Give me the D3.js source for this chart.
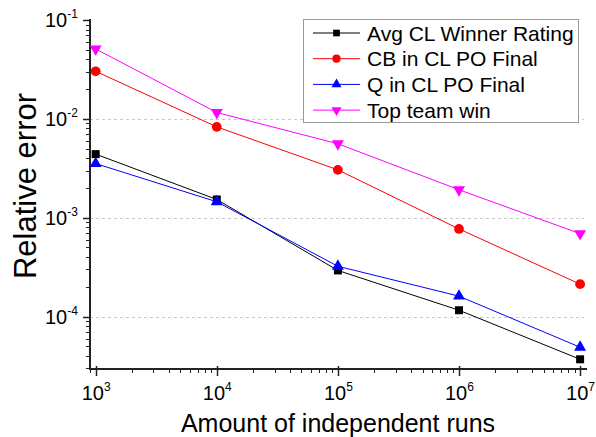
<!DOCTYPE html>
<html>
<head>
<meta charset="utf-8">
<script src="https://cdn.jsdelivr.net/npm/d3@7"></script>
<style>
body { margin: 0; background: #fff; }
text { font-family: "Liberation Sans", Arial, sans-serif; }
</style>
</head>
<body>
<div id="chart"></div>
<script>
var runs = [1e3, 1e4, 1e5, 1e6, 1e7];
var avgWinner = [4.4e-3, 1.53e-3, 2.93e-4, 1.16e-4, 3.7e-5];
var cbFinal = [3.03e-2, 8.3e-3, 3.05e-3, 7.7e-4, 2.13e-4];
var qFinal = [3.53e-3, 1.45e-3, 3.23e-4, 1.61e-4, 4.9e-5];
var topWin = [5.1e-2, 1.16e-2, 5.6e-3, 1.92e-3, 6.9e-4];
var xTicks = [3, 4, 5, 6, 7];
var yTicks = [-4, -3, -2, -1];

var series = [
	{ name: "Avg CL Winner Rating", values: avgWinner, color: "#000000", symbol: d3.symbolSquare, size: 64, rot: 0 },
	{ name: "CB in CL PO Final", values: cbFinal, color: "#ff0000", symbol: d3.symbolCircle, size: 75, rot: 0 },
	{ name: "Q in CL PO Final", values: qFinal, color: "#0000ff", symbol: d3.symbolTriangle, size: 62, rot: 0 },
	{ name: "Top team win", values: topWin, color: "#ff00ff", symbol: d3.symbolTriangle, size: 62, rot: 180 }
];

var W = 596, H = 437;
var L = 90, R = 587, T = 20, B = 369;

var svg = d3.select("#chart").append("svg")
	.attr("width", W)
	.attr("height", H);

var x = d3.scaleLog().domain([898, 1.14e7]).range([L, R]);
var y = d3.scaleLog().domain([Math.pow(10, -4.53), 0.1]).range([B, T]);

// grid lines
svg.append("g").selectAll("line")
	.data(yTicks.filter(function(d) { return d < -1; }))
	.enter().append("line")
	.attr("x1", L).attr("x2", 584)
	.attr("y1", function(d) { return Math.round(y(Math.pow(10, d))) + 0.5; })
	.attr("y2", function(d) { return Math.round(y(Math.pow(10, d))) + 0.5; })
	.attr("stroke", "#c8c8c8")
	.attr("stroke-width", 1)
	.attr("stroke-dasharray", "3,3");

// minor ticks
var minorY = [], minorX = [];
for (var e = -5; e < -1; e++) for (var m = 2; m < 10; m++) {
	var v = m * Math.pow(10, e);
	if (v > y.domain()[0] && v < 0.1) minorY.push(v);
}
for (var e2 = 2; e2 < 7; e2++) for (var m2 = 2; m2 < 10; m2++) {
	var v2 = m2 * Math.pow(10, e2);
	if (v2 > x.domain()[0] && v2 < x.domain()[1]) minorX.push(v2);
}

var axisG = svg.append("g").attr("stroke", "#222");

axisG.selectAll(".ym").data(minorY).enter().append("line")
	.attr("x1", L - 4).attr("x2", L)
	.attr("y1", function(d) { return Math.round(y(d)) + 0.5; })
	.attr("y2", function(d) { return Math.round(y(d)) + 0.5; })
	.attr("stroke-width", 1);
axisG.selectAll(".yM").data(yTicks).enter().append("line")
	.attr("x1", L - 7).attr("x2", L)
	.attr("y1", function(d) { return Math.round(y(Math.pow(10, d))) + 0.5; })
	.attr("y2", function(d) { return Math.round(y(Math.pow(10, d))) + 0.5; })
	.attr("stroke-width", 1.5);

axisG.selectAll(".xm").data(minorX).enter().append("line")
	.attr("y1", B).attr("y2", B + 4)
	.attr("x1", function(d) { return Math.round(x(d)) + 0.5; })
	.attr("x2", function(d) { return Math.round(x(d)) + 0.5; })
	.attr("stroke-width", 1);
axisG.selectAll(".xM").data(xTicks).enter().append("line")
	.attr("y1", B - 3).attr("y2", B + 7)
	.attr("x1", function(d) { return Math.round(x(Math.pow(10, d))) + 0.5; })
	.attr("x2", function(d) { return Math.round(x(Math.pow(10, d))) + 0.5; })
	.attr("stroke-width", 1.5);

axisG.append("line").attr("x1", L).attr("x2", L).attr("y1", T - 1).attr("y2", B + 1).attr("stroke-width", 2);
axisG.append("line").attr("x1", L - 1).attr("x2", R).attr("y1", B).attr("y2", B).attr("stroke-width", 2);

// tick labels
svg.append("g").selectAll("text").data(yTicks).enter().append("text")
	.attr("x", 45)
	.attr("y", function(d) { return y(Math.pow(10, d)) + 7; })
	.attr("font-size", "20px")
	.attr("fill", "#000")
	.each(function(d) {
		var t = d3.select(this);
		t.append("tspan").text("10");
		t.append("tspan").attr("dy", -9).attr("font-size", "12px").text(d);
	});

svg.append("g").selectAll("text").data(xTicks).enter().append("text")
	.attr("x", function(d) { return x(Math.pow(10, d)) - 14; })
	.attr("y", 400)
	.attr("font-size", "20px")
	.attr("fill", "#000")
	.each(function(d) {
		var t = d3.select(this);
		t.append("tspan").text("10");
		t.append("tspan").attr("dy", -9).attr("font-size", "12px").text(d);
	});

// axis titles
svg.append("text")
	.attr("transform", "translate(36,186) rotate(-90)")
	.attr("text-anchor", "middle")
	.attr("font-size", "31px")
	.text("Relative error");
svg.append("text")
	.attr("x", 338).attr("y", 432)
	.attr("text-anchor", "middle")
	.attr("font-size", "25px")
	.text("Amount of independent runs");

// series
var line = d3.line()
	.x(function(d, i) { return x(runs[i]); })
	.y(function(d) { return y(d); });

series.forEach(function(s) {
	svg.append("path")
		.datum(s.values)
		.attr("d", line)
		.attr("fill", "none")
		.attr("stroke", s.color)
		.attr("stroke-width", 1);
	svg.append("g").selectAll("path").data(s.values).enter().append("path")
		.attr("d", d3.symbol().type(s.symbol).size(s.size))
		.attr("transform", function(d, i) { return "translate(" + x(runs[i]) + "," + y(d) + ") rotate(" + s.rot + ")"; })
		.attr("fill", s.color);
});

// legend
var legend = svg.append("g");
legend.append("rect")
	.attr("x", 303.5).attr("y", 19.5)
	.attr("width", 275).attr("height", 103)
	.attr("fill", "#fff")
	.attr("stroke", "#999")
	.attr("stroke-width", 1);
var rows = legend.selectAll(".row").data(series).enter().append("g")
	.attr("transform", function(d, i) { return "translate(0," + (33 + i * 25.7) + ")"; });
rows.append("line")
	.attr("x1", 313).attr("x2", 360)
	.attr("stroke", function(d) { return d.color; })
	.attr("stroke-width", 1);
rows.append("path")
	.attr("d", function(d) { return d3.symbol().type(d.symbol).size(d.size * 0.7)(); })
	.attr("transform", function(d) { return "translate(336.5,0) rotate(" + d.rot + ")"; })
	.attr("fill", function(d) { return d.color; });
rows.append("text")
	.attr("x", 367).attr("y", 7.5)
	.attr("font-size", "21px")
	.text(function(d) { return d.name; });
</script>
</body>
</html>
